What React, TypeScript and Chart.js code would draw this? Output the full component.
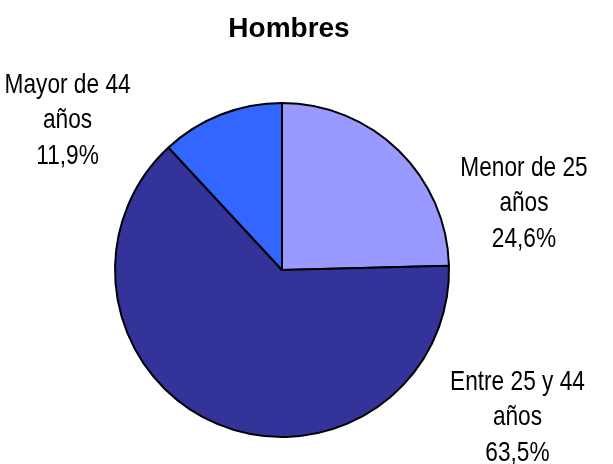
import React, { useEffect, useRef } from "react";
import { Chart, registerables } from "chart.js";

Chart.register(...registerables);

const title = "Hombres";
const categories = ["Menor de 25 años", "Entre 25 y 44 años", "Mayor de 44 años"];
const labelLines = [["Menor de 25", "años"], ["Entre 25 y 44", "años"], ["Mayor de 44", "años"]];
const values = [24.6, 63.5, 11.9];
const colors = ["#9999FF", "#333399", "#3366FF"];

// label anchor (baseline of middle line) relative to pie centre, in units of radius (layout only)
const labelAnchors = [
  [1.449, -0.353],
  [1.41, 0.931],
  [-1.284, -0.85],
];

const fmt = (v: number) => v.toFixed(1).replace(".", ",") + "%";

const labelPlugin = {
  id: "pieLabels",
  afterDraw(chart: any) {
    const ctx = chart.ctx;
    const meta = chart.getDatasetMeta(0);
    const arc0 = meta.data[0];
    const cx = arc0.x;
    const cy = arc0.y;
    const r = arc0.outerRadius;
    ctx.save();
    ctx.fillStyle = "#000";
    ctx.textAlign = "center";
    ctx.textBaseline = "alphabetic";
    ctx.font = "bold 28px 'Liberation Sans', Arial, sans-serif";
    ctx.fillText(title, 289, 37);
    ctx.font = "28px 'Liberation Sans', Arial, sans-serif";
    const lh = 35.5;
    meta.data.forEach((_: any, i: number) => {
      const lines = [...labelLines[i], fmt(values[i])];
      const x = cx + labelAnchors[i][0] * r;
      const y = cy + labelAnchors[i][1] * r;
      lines.forEach((t, k) => {
        ctx.save();
        ctx.translate(x, y + (k - 1) * lh);
        ctx.scale(0.81, 1);
        ctx.fillText(t, 0, 0);
        ctx.restore();
      });
    });
    ctx.restore();
  },
};

export default function App() {
  const ref = useRef<HTMLCanvasElement>(null);
  useEffect(() => {
    document.body.style.margin = "0";
    const chart = new Chart(ref.current!, {
      type: "pie",
      data: {
        labels: categories,
        datasets: [
          {
            data: values,
            backgroundColor: colors,
            borderColor: "#000",
            borderWidth: 2,
          },
        ],
      },
      options: {
        responsive: false,
        animation: false,
        layout: { padding: { left: 114, right: 163, top: 102, bottom: 26 } },
        plugins: {
          legend: { display: false },
          tooltip: { enabled: false },
          title: { display: false },
        },
      },
      plugins: [labelPlugin],
    });
    return () => chart.destroy();
  }, []);
  return (
    <div style={{ width: 613, height: 464, background: "#fff" }}>
      <canvas ref={ref} width={613} height={464} />
    </div>
  );
}
